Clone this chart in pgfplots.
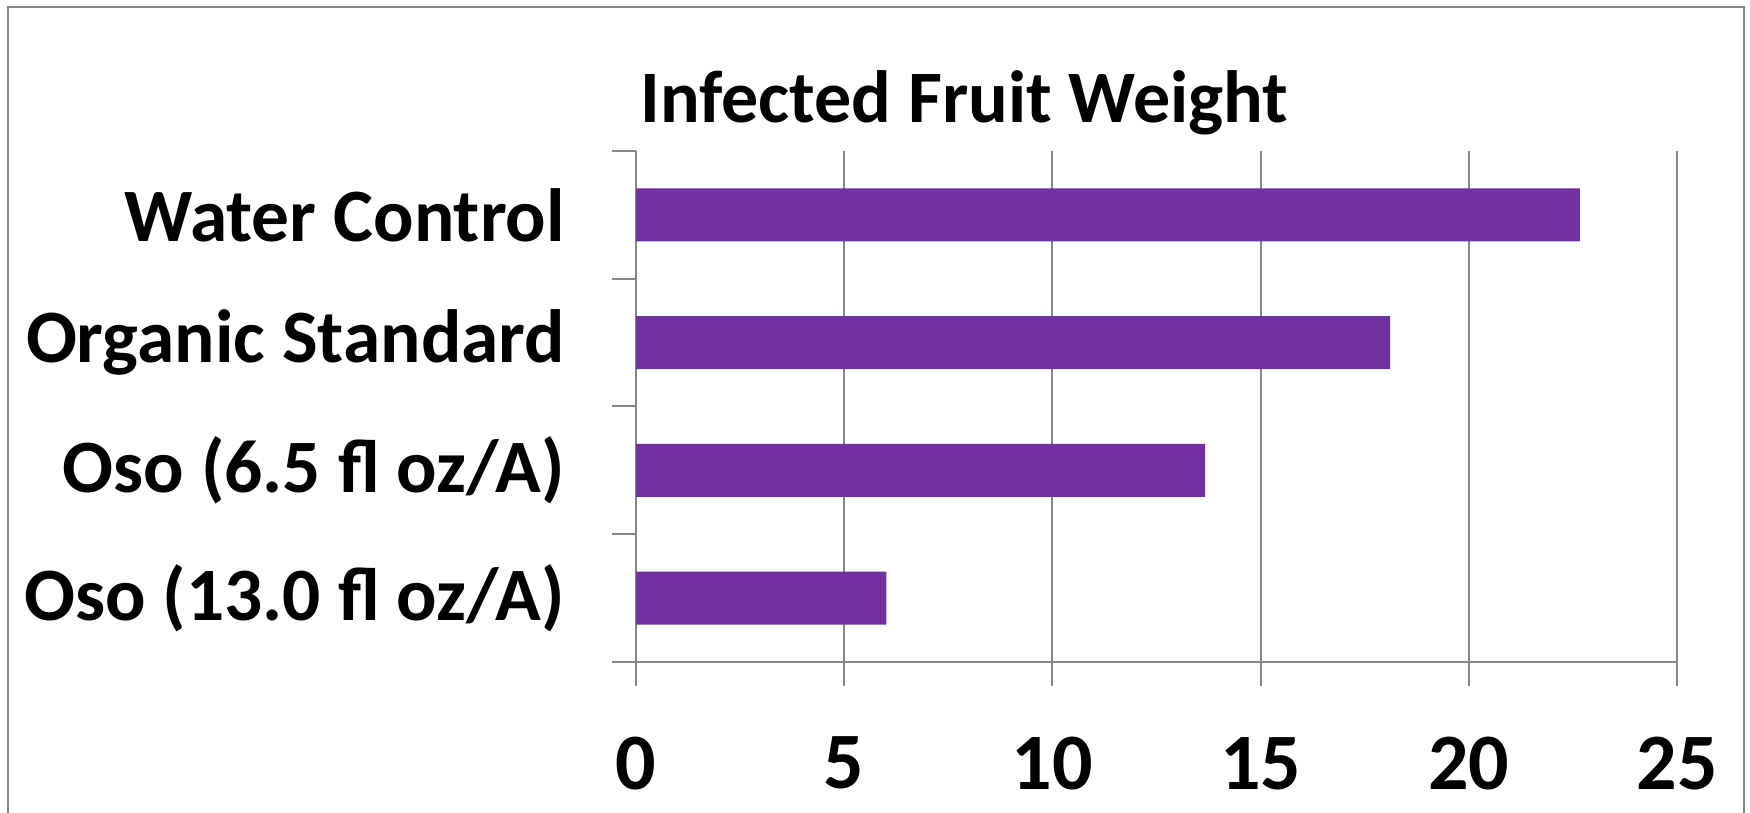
\documentclass[border=0pt]{standalone}
\usepackage{pgfplots}
\pgfplotsset{compat=1.18}
\usepackage{fontspec}
\setmainfont{Carlito}
\definecolor{barpurple}{HTML}{7030A0}
\definecolor{axgray}{HTML}{868686}
\begin{document}
\begin{tikzpicture}
\useasboundingbox (0,0) rectangle (875pt,406.5pt);
\begin{scope}
\clip (0,0) rectangle (875pt,406.5pt);
\draw[axgray, line width=1.2pt] (4pt,-5pt) -- (4pt,403pt) -- (872pt,403pt) -- (872pt,-5pt);
\end{scope}
\node[anchor=base west, inner sep=0pt, font=\bfseries\fontsize{37}{42}\selectfont] at (320pt,345pt) {Infected Fruit Weight};
\begin{axis}[at={(318pt,75.5pt)}, anchor=south west, scale only axis,
  width=520.5pt, height=255.5pt,
  xmin=0, xmax=25, ymin=-0.5, ymax=3.5,
  xbar, bar width=26.5pt, bar shift=0pt,
  axis x line*=bottom, axis y line*=left,
  axis line style={axgray, line width=1pt, -},
  tick align=outside, major tick length=12pt,
  xtick={0,5,10,15,20,25}, xmajorgrids,
  major grid style={axgray, line width=1pt},
  xtick style={axgray, line width=1pt},
  ytick={0,1,2,3},
  yticklabels={Oso (13.0 fl oz/A), Oso (6.5 fl oz/A), Organic Standard, Water Control},
  ytick style={draw=none},
  extra y ticks={-0.5,0.5,1.5,2.5,3.5},
  extra y tick labels={},
  extra y tick style={ytick style={draw=axgray, line width=1pt}, ymajorgrids=false},
  /pgf/number format/assume math mode=true,
  xticklabel style={font=\bfseries\fontsize{40}{44}\selectfont, yshift=-22pt},
  yticklabel style={font=\bfseries\fontsize{37.7}{42}\selectfont, xshift=-20pt},
]
\addplot[fill=barpurple, draw=none] coordinates {(6.01,0) (13.67,1) (18.11,2) (22.67,3)};
\end{axis}
\end{tikzpicture}
\end{document}
